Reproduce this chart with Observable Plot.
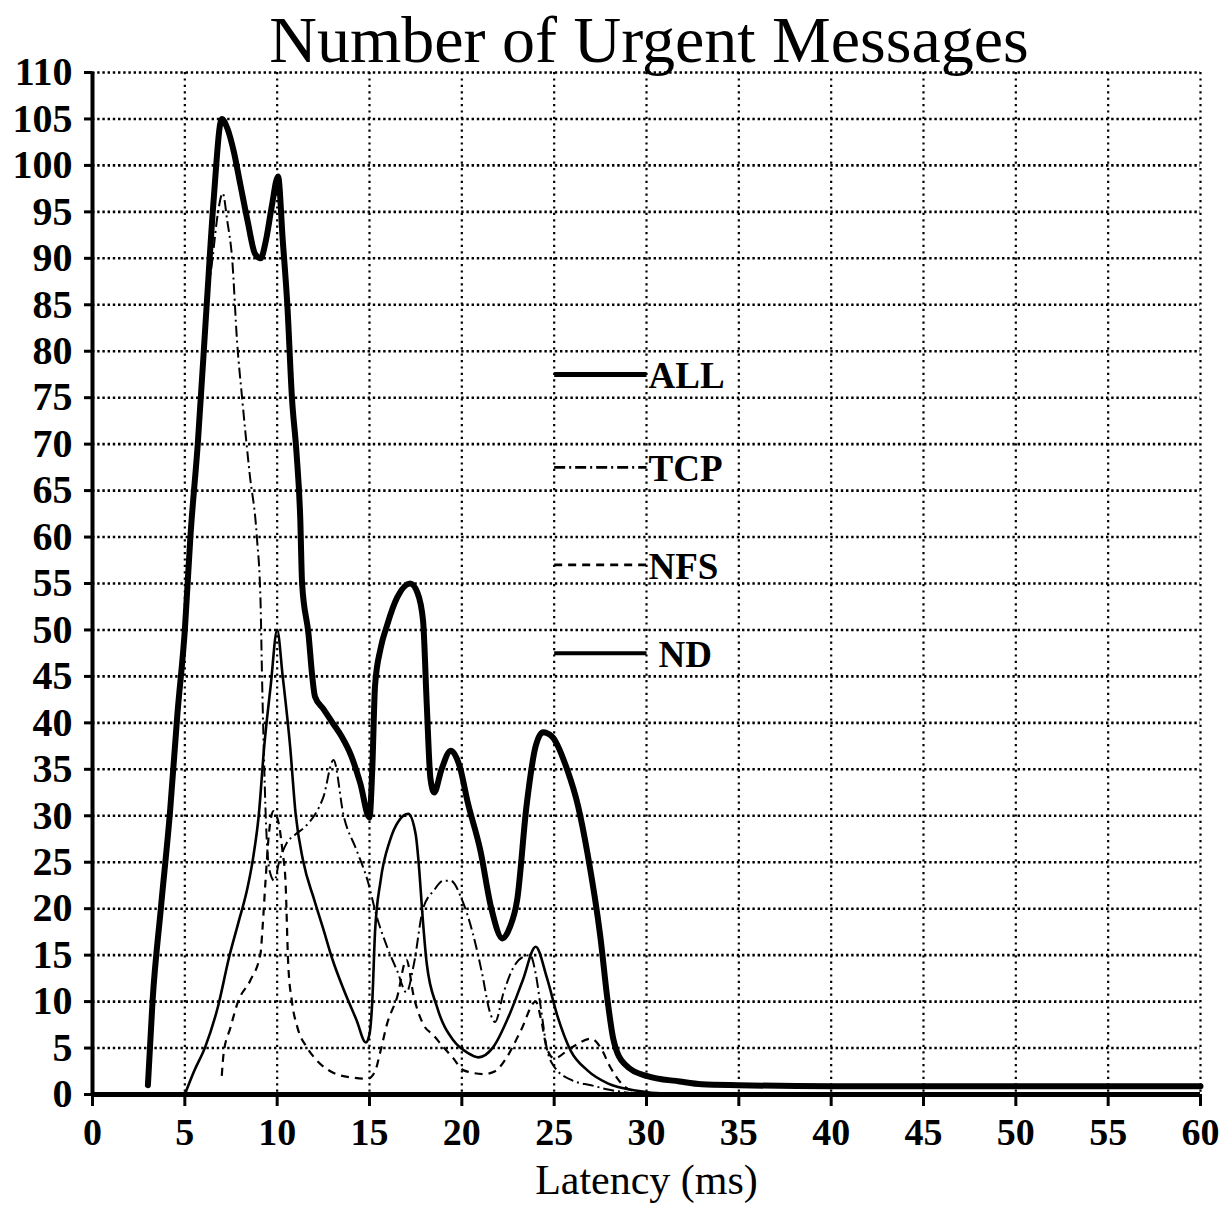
<!DOCTYPE html>
<html>
<head>
<meta charset="utf-8">
<script src="https://cdn.jsdelivr.net/npm/d3@7"></script>
<script src="https://cdn.jsdelivr.net/npm/@observablehq/plot@0.6"></script>
<style>
  html, body { margin: 0; padding: 0; background: #fff; }
  #wrap { position: relative; width: 1228px; height: 1206px; background: #fff; }
  #title { position: absolute; left: 649px; top: 7px; transform: translateX(-50%); z-index: 2;
           font-family: "Liberation Serif", "DejaVu Serif", serif; font-size: 66px;
           line-height: 66px; white-space: nowrap; color: #000; }
  #chart { position: absolute; left: 0; top: 60px; z-index: 1; }
</style>
</head>
<body>
<div id="wrap">
  <div id="title">Number of Urgent Messages</div>
  <div id="chart"></div>
</div>
<script>
// ---- data (latency in ms, number of urgent messages) ----
const allX = [3,3.25,3.7,4.2,4.6,5,5.3,5.7,6.2,6.55,7,7.3,7.65,8,8.4,8.8,9.1,9.4,9.7,10.05,10.3,10.55,10.8,11.05,11.25,11.35,11.7,11.9,12.05,12.5,13,13.5,14,14.5,15,15.15,15.3,15.6,15.95,16.5,17.2,17.6,17.9,18.1,18.3,18.5,18.9,19.4,19.9,20.3,21,21.6,22.2,22.6,23,23.5,24,24.4,24.9,25.7,26.3,26.8,27.5,27.9,28.2,28.8,30,31.8,33,35,40,45,50,55,60];
const allY = [1,10,20,30.5,41,50,60,70,85.5,96,105,104,101.5,98,94,90.5,90,92,95.5,98.8,92,85,75,69,62,55,49.5,45,42.8,41.5,40,38.5,36.5,33.5,29.8,35,44,48,50.5,53.5,55,54,51,42,34,32.5,35,37,35.2,31.6,26.3,20,16.8,18,21,31,37.5,39,38.5,35,31,26,17,10,6,3.3,2,1.4,1.1,1,0.9,0.9,0.9,0.9,0.9];

const tcpX = [3,3.25,3.7,4.2,4.6,5,5.3,5.7,6.2,6.5,6.8,7.05,7.3,7.56,7.83,8.1,8.5,8.9,9.1,9.18,9.27,9.4,9.6,9.85,10.1,10.5,11,11.5,12,12.5,13.05,13.6,14.3,14.9,15.4,15.95,16.5,17,17.4,17.9,18.5,19,19.4,20,20.6,21.1,21.5,21.8,22.25,22.8,23.3,23.7,24,24.3,24.6,25,26,27,28,29,30];
const tcpY = [1,10,20,30.5,41,50,60,70,85,90,95,97,94,90,81,75,67,60,53,45,37.5,29,24,23,25,27,28,28.8,30,32,36,30,26.3,23,19.1,15.9,13.3,11,14,20,22,23,23,21,17.3,13,9,7.8,10.9,13.7,14.8,15,13,9,5,3,1.5,1,0.5,0.2,0];

const nfsX = [7,7.1,7.47,7.9,8.55,9.1,9.2,9.37,9.55,9.8,10.1,10.3,10.45,10.6,10.8,11.1,11.6,12,13.2,14.2,14.9,15.3,15.6,15.95,16.5,17,17.4,17.9,18.5,19,19.5,20.1,21.2,21.8,22.4,23.2,24,24.3,24.6,25,25.9,27,27.5,28.05,28.4,29,30];
const nfsY = [2,4.4,7.2,10.1,12.3,15.2,17.7,23,28,30.5,29,26,23,14,10,7.2,5.1,4,2.2,1.8,1.7,2.5,4.7,7.6,10.5,14.5,10.5,7.6,6.3,5.1,4,2.6,2.2,2.5,3.9,6.9,10,8,5,3.9,5,6,5.1,2.9,1.8,0.6,0.2];

const ndX = [5,5.5,6.1,6.8,7.4,7.9,8.4,8.7,9,9.3,9.65,10,10.3,10.7,11,11.4,12,12.5,13,13.6,14.3,14.8,15,15.15,15.3,15.6,16.1,16.6,17.1,17.5,17.7,17.85,18.1,18.66,19.55,20.3,20.9,21.7,22.6,23.3,24,24.6,25.2,25.9,26.8,27.9,29.5,31,35];
const ndY = [0,2.5,5.1,9.5,14.8,18.5,22.3,25.5,30,37.5,44,50,45,37.5,30.2,25.2,21,17.8,14.5,11.3,8,5.6,6.5,10,17.5,23,27.3,29.5,30.2,28,24,19.8,14.1,9.4,5.8,4.5,4,5.1,8.7,12.3,15.9,12.6,8.3,4.7,2.6,1.2,0.4,0.1,0];

const seriesNames = ["ALL", "TCP", "NFS", "ND"];
const xTicks = d3.range(0, 61, 5);
const yTicks = d3.range(0, 111, 5);

// ---- layout / style constants ----
const styles = {
  ALL: {strokeWidth: 6, dash: null},
  TCP: {strokeWidth: 2, dash: "11,4,2,4"},
  NFS: {strokeWidth: 2.2, dash: "8,6"},
  ND:  {strokeWidth: 2.6, dash: null}
};
const legendLevels = [77.5, 67.5, 57, 47.5];
const legendX1 = 25, legendX2 = 30;

const toPts = (xs, ys) => xs.map((x, i) => ({x, y: ys[i]}));
const series = {
  ALL: toPts(allX, allY),
  TCP: toPts(tcpX, tcpY),
  NFS: toPts(nfsX, nfsY),
  ND: toPts(ndX, ndY)
};

const marks = [
  Plot.gridY(yTicks.filter(d => d > 0), {stroke: "#000", strokeOpacity: 1, strokeWidth: 2.6, strokeDasharray: "2.4,2.8"}),
  Plot.gridX(xTicks.filter(d => d > 0), {stroke: "#000", strokeOpacity: 1, strokeWidth: 2.2, strokeDasharray: "2.2,4.2"}),
];

for (const name of ["NFS", "TCP", "ND", "ALL"]) {
  const s = styles[name];
  marks.push(Plot.line(series[name], {
    x: "x", y: "y", curve: "monotone-x",
    stroke: "#000", strokeWidth: s.strokeWidth,
    strokeDasharray: s.dash ?? undefined,
    strokeLinejoin: "round", strokeLinecap: name === "ALL" ? "round" : "butt"
  }));
}

// legend inside the plot
seriesNames.forEach((name, i) => {
  const s = styles[name];
  const lw = name === "ALL" ? 5 : (name === "ND" ? 4 : 2.6);
  marks.push(Plot.link([legendLevels[i]], {
    x1: () => legendX1, x2: () => legendX2, y1: d => d, y2: d => d,
    stroke: "#000", strokeWidth: lw, strokeDasharray: s.dash ?? undefined
  }));
  marks.push(Plot.text([name], {
    x: () => legendX2, y: () => legendLevels[i], text: d => d,
    textAnchor: "start", dx: name === "ND" ? 12 : 2, dy: 2,
    fontSize: 37, fontWeight: "bold", fill: "#000"
  }));
});

// axes
marks.push(
  Plot.ruleX([0], {stroke: "#000", strokeWidth: 4}),
  Plot.ruleY([0], {stroke: "#000", strokeWidth: 5}),
  Plot.axisY({ticks: yTicks, tickSize: 8, tickPadding: 12, tickFormat: d => String(d),
              fontSize: 40, fontWeight: "bold", strokeWidth: 3, label: null}),
  Plot.axisX({ticks: xTicks, tickSize: 12, tickPadding: 12, tickFormat: d => String(d),
              fontSize: 38, fontWeight: "bold", strokeWidth: 3, label: null}),
  Plot.text(["Latency (ms)"], {frameAnchor: "bottom", lineAnchor: "bottom", dy: 99, text: d => d,
              fontSize: 42, fill: "#000"})
);

const chart = Plot.plot({
  width: 1228,
  height: 1146,
  marginTop: 12,
  marginBottom: 112,
  marginLeft: 92,
  marginRight: 28,
  x: {domain: [0, 60]},
  y: {domain: [0, 110]},
  style: {fontFamily: "'Liberation Serif', 'DejaVu Serif', serif", background: "transparent", color: "#000", overflow: "visible"},
  marks
});
document.getElementById("chart").appendChild(chart);
</script>
</body>
</html>
